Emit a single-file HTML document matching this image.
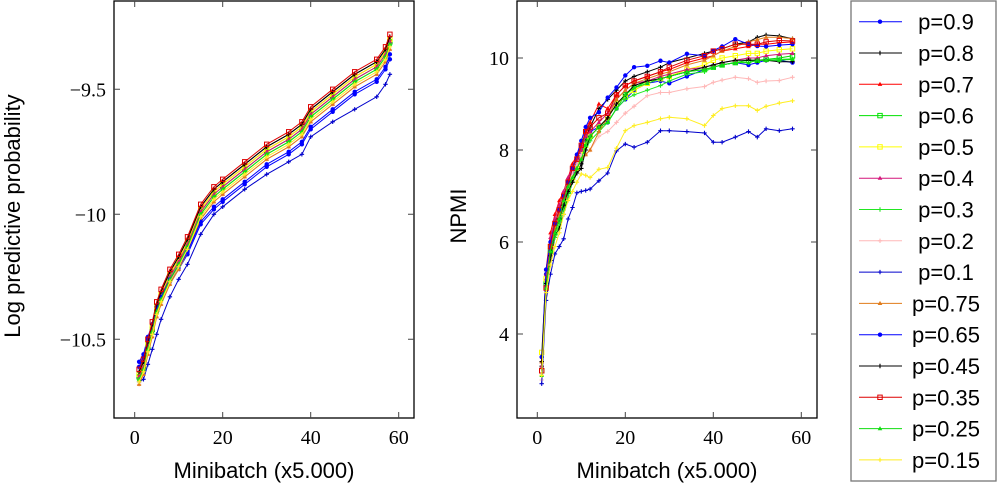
<!DOCTYPE html>
<html><head><meta charset="utf-8"><style>
html,body{margin:0;padding:0;background:#fff;}
svg{display:block;}
</style></head><body>
<svg id="svg" width="998" height="484" font-family="Liberation Sans, sans-serif"></svg>
<script>
const seriesNames=["p=0.9","p=0.8","p=0.7","p=0.6","p=0.5","p=0.4","p=0.3","p=0.2","p=0.1","p=0.75","p=0.65","p=0.45","p=0.35","p=0.25","p=0.15"];
const seriesColors=["#0000ff","#000000","#ff0000","#00e000","#ffff00","#d4157a","#22e622","#ffb8b8","#0000cc","#e07b1a","#0000ff","#000000","#dd0000","#11dd11","#ffee22"];
const seriesMarkers=["dot","plus","tri","sq","sq","tri","plus","plus","plus","tri","dot","plus","sq","tri","plus"];
const leftX=[1,2,3,4,5,6,8,10,12,15,18,20,25,30,35,38,40,45,50,55,57,58];
const leftVals=[
[-10.59,-10.56,-10.49,-10.44,-10.37,-10.33,-10.27,-10.22,-10.16,-10.04,-9.98,-9.95,-9.88,-9.81,-9.76,-9.72,-9.66,-9.59,-9.52,-9.47,-9.42,-9.38],
[-10.63,-10.59,-10.51,-10.44,-10.36,-10.31,-10.23,-10.17,-10.10,-9.97,-9.90,-9.87,-9.80,-9.73,-9.68,-9.64,-9.58,-9.51,-9.44,-9.39,-9.34,-9.29],
[-10.64,-10.60,-10.52,-10.45,-10.37,-10.32,-10.24,-10.18,-10.11,-9.98,-9.91,-9.88,-9.81,-9.74,-9.69,-9.65,-9.59,-9.52,-9.45,-9.40,-9.35,-9.30],
[-10.65,-10.61,-10.53,-10.46,-10.38,-10.33,-10.25,-10.19,-10.12,-9.99,-9.92,-9.89,-9.82,-9.75,-9.70,-9.66,-9.60,-9.53,-9.46,-9.41,-9.36,-9.31],
[-10.64,-10.60,-10.52,-10.45,-10.37,-10.32,-10.24,-10.18,-10.11,-9.98,-9.91,-9.88,-9.81,-9.74,-9.69,-9.65,-9.59,-9.52,-9.45,-9.40,-9.35,-9.30],
[-10.65,-10.61,-10.53,-10.46,-10.38,-10.33,-10.25,-10.19,-10.12,-9.99,-9.92,-9.89,-9.82,-9.75,-9.70,-9.66,-9.60,-9.53,-9.46,-9.41,-9.36,-9.31],
[-10.66,-10.62,-10.54,-10.47,-10.39,-10.34,-10.26,-10.20,-10.13,-10.00,-9.93,-9.90,-9.83,-9.76,-9.71,-9.67,-9.61,-9.54,-9.47,-9.42,-9.37,-9.32],
[-10.68,-10.64,-10.56,-10.49,-10.41,-10.36,-10.28,-10.22,-10.15,-10.02,-9.95,-9.92,-9.85,-9.78,-9.73,-9.69,-9.63,-9.56,-9.49,-9.44,-9.39,-9.34],
[-10.67,-10.66,-10.60,-10.54,-10.48,-10.42,-10.33,-10.26,-10.20,-10.08,-10.00,-9.97,-9.90,-9.84,-9.79,-9.76,-9.69,-9.63,-9.58,-9.53,-9.48,-9.44],
[-10.68,-10.64,-10.56,-10.49,-10.41,-10.36,-10.28,-10.22,-10.15,-10.02,-9.95,-9.92,-9.85,-9.78,-9.73,-9.69,-9.63,-9.56,-9.49,-9.44,-9.39,-9.34],
[-10.61,-10.57,-10.50,-10.44,-10.37,-10.33,-10.26,-10.21,-10.15,-10.03,-9.97,-9.94,-9.87,-9.80,-9.75,-9.71,-9.65,-9.58,-9.51,-9.46,-9.41,-9.36],
[-10.63,-10.59,-10.51,-10.44,-10.36,-10.31,-10.23,-10.17,-10.10,-9.97,-9.90,-9.87,-9.80,-9.73,-9.68,-9.64,-9.58,-9.51,-9.44,-9.39,-9.34,-9.29],
[-10.62,-10.58,-10.50,-10.43,-10.35,-10.30,-10.22,-10.16,-10.09,-9.96,-9.89,-9.86,-9.79,-9.72,-9.67,-9.63,-9.57,-9.50,-9.43,-9.38,-9.33,-9.28],
[-10.66,-10.62,-10.54,-10.47,-10.39,-10.34,-10.26,-10.20,-10.13,-10.00,-9.93,-9.90,-9.83,-9.76,-9.71,-9.67,-9.61,-9.54,-9.47,-9.42,-9.37,-9.32],
[-10.67,-10.63,-10.55,-10.48,-10.40,-10.35,-10.27,-10.21,-10.14,-10.01,-9.94,-9.91,-9.84,-9.77,-9.72,-9.68,-9.62,-9.55,-9.48,-9.43,-9.38,-9.33]];
const rightX=[1,2,3,4,5,6,7,8,9,10,11,12,14,16,18,20,22,25,28,30,34,38,40,42,45,48,50,52,55,58];
const rightVals=[
[3.5,5.3,5.9,6.3,6.5,6.8,7.2,7.5,7.7,8.0,8.3,8.4,8.5,8.6,8.9,9.1,9.3,9.45,9.5,9.45,9.6,9.75,9.8,9.85,9.9,9.85,9.9,9.95,9.95,9.9],
[3.3,5.0,5.6,6.1,6.3,6.6,7.0,7.3,7.5,7.7,8.2,8.5,8.9,9.1,9.3,9.5,9.6,9.7,9.8,9.9,10.0,10.1,10.15,10.2,10.3,10.35,10.45,10.5,10.48,10.42],
[3.4,5.4,6.2,6.6,6.9,7.1,7.4,7.7,7.9,8.1,8.4,8.6,9.0,8.9,9.2,9.4,9.5,9.6,9.7,9.75,9.9,10.0,10.05,10.15,10.2,10.25,10.3,10.3,10.33,10.35],
[3.2,5.1,5.8,6.2,6.5,6.8,7.1,7.4,7.6,7.9,8.2,8.3,8.5,8.7,9.0,9.2,9.35,9.5,9.55,9.6,9.7,9.75,9.8,9.85,9.9,9.95,9.95,9.97,10.0,10.05],
[3.6,5.2,5.9,6.3,6.6,6.9,7.2,7.4,7.6,7.9,8.1,8.3,8.5,8.7,9.0,9.15,9.3,9.45,9.55,9.6,9.75,9.85,9.95,10.0,10.05,10.1,10.1,10.15,10.18,10.2],
[3.3,5.3,6.1,6.5,6.8,7.1,7.4,7.6,7.8,8.0,8.3,8.4,8.6,8.8,9.1,9.3,9.45,9.5,9.6,9.65,9.75,9.8,9.85,9.9,9.95,10.0,10.0,10.05,10.08,10.1],
[3.1,5.0,5.7,6.1,6.4,6.7,7.0,7.3,7.6,7.8,8.0,8.2,8.4,8.6,8.9,9.1,9.2,9.3,9.4,9.5,9.65,9.7,9.8,9.85,9.9,9.9,9.95,9.95,9.97,9.98],
[3.0,5.0,5.7,6.2,6.6,6.9,7.2,7.5,7.7,7.9,7.9,8.0,8.3,8.4,8.6,8.8,8.95,9.18,9.25,9.25,9.33,9.38,9.47,9.52,9.58,9.55,9.47,9.5,9.51,9.58],
[2.92,4.73,5.3,5.74,5.9,6.07,6.5,6.75,7.07,7.1,7.12,7.15,7.33,7.5,7.98,8.13,8.06,8.17,8.42,8.42,8.4,8.37,8.17,8.17,8.28,8.4,8.28,8.46,8.42,8.46],
[3.4,5.2,5.9,6.3,6.6,6.9,7.2,7.4,7.6,7.8,7.9,8.0,8.4,8.7,9.1,9.3,9.45,9.55,9.65,9.7,9.85,9.95,10.05,10.15,10.25,10.35,10.4,10.45,10.45,10.42],
[3.5,5.4,6.0,6.4,6.7,7.0,7.3,7.6,7.9,8.2,8.5,8.7,8.82,9.14,9.36,9.62,9.8,9.83,9.94,9.9,10.09,10.05,10.16,10.25,10.41,10.3,10.26,10.25,10.28,10.3],
[3.4,5.1,5.7,6.2,6.5,6.8,7.1,7.3,7.5,7.6,8.0,8.3,8.5,8.7,9.0,9.2,9.4,9.5,9.55,9.6,9.7,9.8,9.85,9.9,9.95,9.95,9.95,9.95,9.92,9.92],
[3.2,5.0,5.9,6.4,6.7,7.0,7.3,7.6,7.8,8.1,8.4,8.5,8.7,8.8,9.2,9.4,9.5,9.6,9.7,9.8,9.95,10.05,10.15,10.2,10.3,10.3,10.3,10.35,10.38,10.37],
[3.1,5.0,5.8,6.2,6.5,6.9,7.2,7.4,7.6,7.8,8.1,8.3,8.5,8.6,8.9,9.2,9.35,9.45,9.55,9.6,9.7,9.75,9.8,9.85,9.9,9.9,9.95,9.95,9.95,9.97],
[3.1,4.9,5.5,5.9,6.2,6.6,6.9,7.1,7.3,7.48,7.45,7.4,7.58,7.62,8.04,8.42,8.53,8.6,8.68,8.71,8.68,8.53,8.75,8.9,8.96,8.96,8.86,8.95,9.02,9.07]];
const xTicks=[0,20,40,60];
const leftYTicks=[-9.5,-10,-10.5];
const leftYLabels=["\u22129.5","\u221210","\u221210.5"];
const rightYTicks=[4,6,8,10];
const rightYLabels=["4","6","8","10"];

const NS="http://www.w3.org/2000/svg";
const svg=document.getElementById("svg");
const SERIF="Liberation Serif, DejaVu Serif, serif";
function mk(tag,attrs,parent){const e=document.createElementNS(NS,tag);for(const k in attrs)e.setAttribute(k,attrs[k]);(parent||svg).appendChild(e);return e;}
function marker(g,type,x,y,c,s){
  let e;
  if(type==="dot"){e=mk("circle",{cx:x,cy:y,r:2.2*s,fill:c},g);}
  else if(type==="sq"){e=mk("rect",{x:x-2.2*s,y:y-2.2*s,width:4.4*s,height:4.4*s,fill:"none",stroke:c,"stroke-width":1},g);}
  else if(type==="tri"){e=mk("path",{d:`M${x},${y-2.5*s}L${x+2.3*s},${y+1.6*s}L${x-2.3*s},${y+1.6*s}Z`,fill:c},g);}
  else {e=mk("path",{d:`M${x-2.2*s},${y}H${x+2.2*s}M${x},${y-2.2*s}V${y+2.2*s}`,stroke:c,"stroke-width":1.1},g);}
  
  
}
function panel(cfg){
  const {L,R,T,B,x0,xk,y0,yk,xs,vals,yt,yl,name,ylabel,ylx}=cfg;
  const sx=v=>x0+xk*v, sy=v=>y0-yk*(v-yt[0]);
  const g=mk("g",{});
  
  
  vals.forEach((arr,i)=>{
    const sg=mk("g",{},g);
    
    
    const d=arr.map((v,j)=>(j?"L":"M")+sx(xs[j]).toFixed(1)+","+sy(v).toFixed(1)).join("");
    const p=mk("path",{d:d,fill:"none",stroke:seriesColors[i],"stroke-width":1},sg);
    
    
    arr.forEach((v,j)=>marker(sg,seriesMarkers[i],sx(xs[j]),sy(v),seriesColors[i],1));
  });
  const box=mk("rect",{x:L,y:T,width:R-L,height:B-T,fill:"none",stroke:"#000","stroke-width":1.3},g);
  
  
  xTicks.forEach(t=>{
    const x=sx(t);
    mk("path",{d:`M${x},${B}V${B-6}M${x},${T}V${T+6}`,stroke:"#444","stroke-width":1},g);
    const tx=mk("text",{x:x,y:B+26,"text-anchor":"middle","font-family":SERIF,"font-size":"20"},g);
    tx.textContent=t;
    
    
  });
  yt.forEach((t,i)=>{
    const y=sy(t);
    mk("path",{d:`M${L},${y}H${L+6}M${R},${y}H${R-6}`,stroke:"#444","stroke-width":1},g);
    const tx=mk("text",{x:L-8,y:y+7,"text-anchor":"end","font-family":SERIF,"font-size":"20"},g);
    tx.textContent=yl[i];
    
    
  });
  const xl=mk("text",{x:(L+R)/2,y:478,"text-anchor":"middle","font-size":"22"},g);
  xl.textContent="Minibatch (x5.000)";
  
  
  const ylb=mk("text",{x:ylx,y:216,"text-anchor":"middle","font-size":"22",transform:`rotate(-90 ${ylx} 216)`},g);
  ylb.textContent=ylabel;
  
  
}
panel({L:114,R:414,T:1,B:418,x0:134.7,xk:4.4,y0:89.3,yk:250,xs:leftX,vals:leftVals,yt:leftYTicks,yl:leftYLabels,name:"log-prob-panel",ylabel:"Log predictive probability",ylx:20});
panel({L:517,R:817,T:1,B:418,x0:537.3,xk:4.4,y0:334,yk:46,xs:rightX,vals:rightVals,yt:rightYTicks,yl:rightYLabels,name:"npmi-panel",ylabel:"NPMI",ylx:466});

const lg=mk("g",{});


mk("rect",{x:851,y:1,width:145,height:480,fill:"#fff",stroke:"#777","stroke-width":1.3},lg);
seriesNames.forEach((n,i)=>{
  const y=21.7+i*31.3;
  const e=mk("g",{},lg);
  
  
  mk("path",{d:`M859,${y}H902`,stroke:seriesColors[i],"stroke-width":1},e);
  marker(e,seriesMarkers[i],880,y,seriesColors[i],1);
  const t=mk("text",{x:946,y:y+8,"text-anchor":"middle","font-size":"22"},e);
  t.textContent=n;
});
</script>
</body></html>
